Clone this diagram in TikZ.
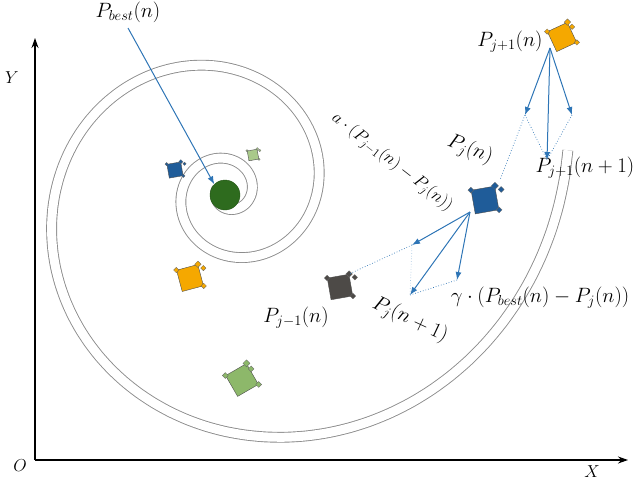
\documentclass[tikz,border=0pt]{standalone}
\usetikzlibrary{shapes.geometric,arrows.meta}
\definecolor{arr}{HTML}{2E75B6}
\definecolor{kblue}{HTML}{1F5C99}
\definecolor{korange}{HTML}{F5A800}
\definecolor{kgreen}{HTML}{8DB86A}
\definecolor{klgreen}{HTML}{A9C98A}
\definecolor{kgray}{HTML}{4D4A47}
\definecolor{kdark}{HTML}{2E6B1E}
\tikzset{
  bluearr/.style={draw=arr,line width=1pt,-{Latex[length=8pt,width=6pt]}},
  dotl/.style={draw=arr,dotted,line width=0.7pt},
  spiral/.style={draw=gray!90,line width=0.9pt,double=white,double distance=9pt},
  lbl/.style={font=\huge,inner sep=1pt},
  axis/.style={line width=1.2pt,-{Stealth[length=10pt,width=7pt]}},
}
\newcommand{\kite}[5]{%
  \node[draw=black!70,fill=#4,rotate=#5,minimum size=#3pt,inner sep=0pt,line width=0.4pt] (#1) at #2 {};
  \node[diamond,fill=#4,draw=black!60,inner sep=0pt,minimum size=0.3*#3pt,line width=0.3pt] at (#1.north east) {};
  \node[diamond,fill=#4,draw=black!60,inner sep=0pt,minimum size=0.25*#3pt,line width=0.3pt] at ([shift={(#5+20:0.3*#3)}]#1.north east) {};
  \node[diamond,fill=#4,draw=black!60,inner sep=0pt,minimum size=0.25*#3pt,line width=0.3pt] at (#1.south east) {};
  \node[diamond,fill=#4,draw=black!60,inner sep=0pt,minimum size=0.25*#3pt,line width=0.3pt] at (#1.north west) {};
}
\begin{document}
\begin{tikzpicture}[x=1pt,y=-1pt]
\useasboundingbox (0,0) rectangle (640,488);
% spiral
\draw[spiral] plot[smooth,variable=\t,domain=-560:367,samples=200]
  ({228+240*exp(0.21*(\t-270)*pi/180)*cos(\t)},{192-240*exp(0.21*(\t-270)*pi/180)*sin(\t)});
% axes
\coordinate (O) at (35,460);
\coordinate (Ytip) at (35,38);
\coordinate (Xtip) at (628,460);
\draw[axis] (O) -- (Ytip);
\draw[axis] (O) -- (Xtip);
\node[font=\LARGE] (lY) at (12,78) {$Y$};
\node[font=\LARGE] (lO) at (20,466) {$O$};
\node[font=\LARGE] (lX) at (592,472) {$X$};
% best
\node[circle,fill=kdark,draw=kdark!80!black,minimum size=30pt,inner sep=0pt] (best) at (225,195) {};
% kites
\kite{kb1}{(175,170)}{14}{kblue}{10}
\kite{klg}{(253,155)}{10}{klgreen}{10}
\kite{ko1}{(190,278)}{22}{korange}{15}
\kite{kg}{(242,380)}{24}{kgreen}{30}
\kite{kgr}{(340,287)}{22}{kgray}{10}
\kite{kj}{(485,200)}{24}{kblue}{10}
\kite{ktop}{(562,37)}{22}{korange}{25}
% labels
\node[lbl] (lbest) at (128,12) {$P_{best}(n)$};
\node[lbl] (ljp1) at (510,42) {$P_{j+1}(n)$};
\node[lbl] (ljp1n) at (585,168) {$P_{j+1}(n+1)$};
\node[lbl,rotate=-22] (lj) at (470,150) {$P_j(n)$};
\node[font=\LARGE,inner sep=1pt,rotate=-38] (la) at (392,162) {$a\cdot(P_{j-1}(n)-P_j(n))$};
\node[lbl,rotate=-25] (ljn1) at (410,320) {$P_j(n+1)$};
\node[lbl] (lg) at (540,298) {$\gamma\cdot(P_{best}(n)-P_j(n))$};
\node[lbl] (ljm1) at (296,318) {$P_{j-1}(n)$};
% arrows
\coordinate (bs) at (128,28);
\draw[bluearr] (bs) -- (best.north west);
\coordinate (jo) at (470,212);
\coordinate (a1) at (412,245);
\coordinate (a2) at (457,280);
\coordinate (a3) at (410,295);
\draw[bluearr] (jo) -- (a1);
\draw[bluearr] (jo) -- (a2);
\draw[bluearr] (jo) -- (a3);
\draw[dotl] (a1) -- (kgr.north east);
\draw[dotl,draw=arr!40] (a1) -- (a3);
\draw[dotl] (a2) -- (a3);
\coordinate (to) at (550,48);
\coordinate (b1) at (525,115);
\coordinate (b2) at (547,160);
\coordinate (b3) at (572,115);
\draw[bluearr] (to) -- (b1);
\draw[bluearr] (to) -- (b2);
\draw[bluearr] (to) -- (b3);
\draw[dotl] (b1) -- (b2);
\draw[dotl] (b3) -- (b2);
\draw[dotl] (b1) -- (500,180);
\end{tikzpicture}
\end{document}
